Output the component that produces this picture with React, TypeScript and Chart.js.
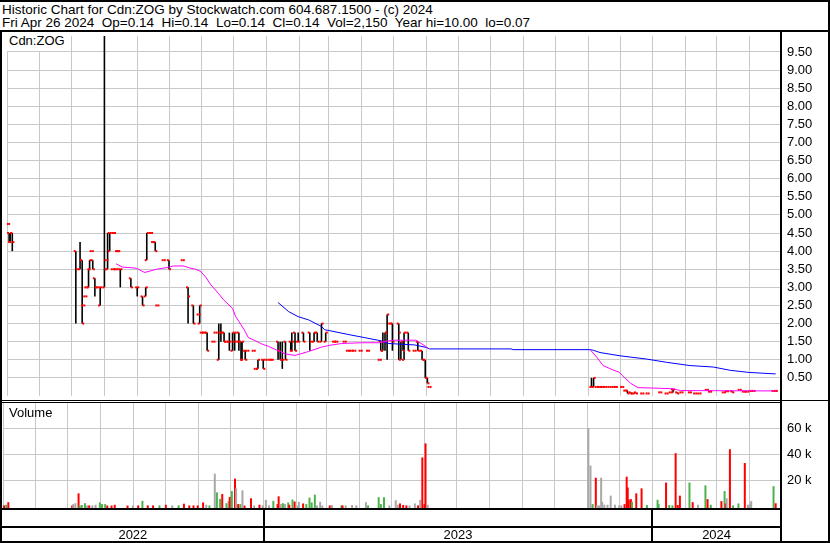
import React, { useEffect, useRef, useState } from 'react';
import { Chart, registerables } from 'chart.js';

Chart.register(...registerables);

// ---------------- text ----------------
const headerTitle = 'Historic Chart for Cdn:ZOG by Stockwatch.com 604.687.1500 - (c) 2024';
const headerQuote = 'Fri Apr 26 2024  Op=0.14  Hi=0.14  Lo=0.14  Cl=0.14  Vol=2,150  Year hi=10.00  lo=0.07';
const symbolLabel = 'Cdn:ZOG';
const volumeLabel = 'Volume';
const yearLabels = ['2022', '2023', '2024'];

// ---------------- axes ----------------
const priceTicks = [0.5, 1, 1.5, 2, 2.5, 3, 3.5, 4, 4.5, 5, 5.5, 6, 6.5, 7, 7.5, 8, 8.5, 9, 9.5];
const volumeTicksK = [20, 40, 60];
const PRICE_MIN = 0;
const PRICE_MAX = 9.94;
const VOL_MIN = -1.5;
const VOL_MAX = 79.3;

// time axis: day index counted from 2022-05-01
const DAY_MS = 86400000;
const START_UTC = Date.UTC(2022, 4, 1);
const dayOf = (y: number, m: number, d: number) => Math.round((Date.UTC(y, m - 1, d) - START_UTC) / DAY_MS);
const X_MIN = 0;
const X_MAX = dayOf(2024, 5, 1);
const monthStarts: number[] = [];
for (let y = 2022, m = 5; y < 2024 || (y === 2024 && m <= 5); ) {
  monthStarts.push(dayOf(y, m, 1));
  m++;
  if (m > 12) { m = 1; y++; }
}
const yearStarts = [dayOf(2023, 1, 1), dayOf(2024, 1, 1)];

// ---------------- data ----------------
// [day, open, high, low, close]
type Bar = [number, number, number, number, number];
const priceBars: Bar[] = [
  [1, 4.75, 4.75, 4.75, 4.75], [2, 4.5, 4.5, 4.25, 4.25], [3, 4.25, 4.5, 4.25, 4.5], [5, 4.5, 4.5, 4.0, 4.25],
  [65, 4.0, 4.0, 2.0, 3.5], [69, 3.5, 4.25, 3.5, 3.75], [71, 3.75, 3.75, 2.0, 2.0], [72, 2.5, 2.5, 2.5, 2.5],
  [74, 2.75, 2.75, 2.75, 2.75], [75, 3.0, 3.0, 3.0, 3.0], [77, 3.0, 3.5, 3.0, 3.5], [78, 3.5, 3.75, 3.5, 3.75],
  [80, 4.0, 4.0, 4.0, 4.0], [81, 3.75, 3.75, 3.5, 3.5], [83, 3.25, 3.25, 2.75, 3.0], [86, 3.0, 3.0, 3.0, 3.0],
  [88, 2.5, 3.0, 2.5, 3.0], [92, 3.0, 10.0, 3.0, 3.5], [94, 3.75, 3.75, 3.75, 3.75], [95, 3.5, 4.5, 3.5, 4.5],
  [97, 4.0, 4.5, 4.0, 4.5], [100, 3.5, 3.5, 3.5, 3.5], [101, 4.5, 4.5, 4.5, 4.5], [103, 3.5, 3.5, 3.5, 3.5],
  [104, 4.0, 4.0, 4.0, 4.0], [105, 4.0, 4.0, 4.0, 4.0], [107, 3.5, 3.5, 3.0, 3.5], [117, 3.25, 3.25, 3.0, 3.0],
  [123, 3.0, 3.0, 2.75, 3.0], [128, 2.75, 2.75, 2.5, 2.5], [131, 2.75, 3.0, 2.75, 3.0], [132, 3.75, 4.5, 3.75, 4.5],
  [136, 4.5, 4.5, 4.5, 4.5], [138, 4.25, 4.25, 4.25, 4.25], [140, 4.25, 4.25, 4.0, 4.0], [142, 2.5, 2.5, 2.5, 2.5],
  [148, 3.75, 3.75, 3.75, 3.75], [153, 3.75, 3.75, 3.5, 3.5], [166, 3.75, 3.75, 3.75, 3.75], [171, 3.0, 3.0, 2.0, 2.75],
  [176, 2.5, 2.5, 2.0, 2.0], [181, 2.25, 2.25, 2.25, 2.25], [182, 2.0, 2.5, 2.0, 2.5], [184, 1.75, 1.75, 1.75, 1.75],
  [186, 1.75, 1.75, 1.75, 1.75], [189, 1.75, 1.75, 1.25, 1.25], [195, 1.5, 1.5, 1.5, 1.5], [197, 1.75, 1.75, 1.75, 1.75],
  [200, 1.0, 2.0, 1.0, 1.75], [202, 1.75, 2.0, 1.5, 1.75], [205, 1.75, 1.75, 1.5, 1.5], [207, 1.5, 1.5, 1.5, 1.5],
  [210, 1.5, 1.75, 1.25, 1.5], [213, 1.25, 1.75, 1.25, 1.75], [215, 1.5, 1.75, 1.25, 1.75], [217, 1.5, 1.5, 1.5, 1.5],
  [219, 1.75, 1.75, 1.25, 1.5], [221, 1.5, 1.5, 1.0, 1.0], [222, 1.0, 1.5, 1.0, 1.5], [225, 1.25, 1.25, 1.0, 1.0],
  [227, 1.25, 1.25, 1.25, 1.25], [233, 1.25, 1.25, 1.25, 1.25], [235, 0.75, 0.75, 0.75, 0.75], [237, 0.75, 1.0, 0.75, 1.0],
  [242, 1.0, 1.0, 0.75, 0.75], [244, 1.0, 1.0, 1.0, 1.0], [248, 1.0, 1.0, 1.0, 1.0], [250, 1.0, 1.0, 1.0, 1.0],
  [256, 1.5, 1.5, 1.0, 1.25], [258, 1.25, 1.5, 1.0, 1.0], [260, 1.0, 1.5, 0.75, 1.0], [263, 1.5, 1.5, 1.0, 1.0],
  [268, 1.5, 1.5, 1.25, 1.25], [269, 1.25, 1.75, 1.25, 1.5], [272, 1.75, 1.75, 1.25, 1.25], [275, 1.5, 1.75, 1.5, 1.5],
  [280, 1.75, 1.75, 1.5, 1.5], [286, 1.75, 1.75, 1.25, 1.5], [290, 1.5, 1.75, 1.5, 1.75], [293, 1.75, 1.75, 1.5, 1.5],
  [297, 1.5, 2.0, 1.5, 2.0], [301, 1.5, 1.75, 1.5, 1.75], [309, 1.5, 1.5, 1.5, 1.5], [311, 1.5, 1.5, 1.5, 1.5],
  [319, 1.5, 1.5, 1.5, 1.5], [322, 1.25, 1.25, 1.25, 1.25], [325, 1.25, 1.25, 1.25, 1.25], [328, 1.25, 1.25, 1.25, 1.25],
  [334, 1.25, 1.25, 1.25, 1.25], [341, 1.25, 1.25, 1.25, 1.25], [352, 1.0, 1.0, 1.0, 1.0], [353, 1.5, 1.5, 1.25, 1.25],
  [355, 1.25, 1.75, 1.25, 1.5], [357, 1.5, 1.75, 1.25, 1.75], [359, 1.75, 2.25, 1.0, 2.25], [362, 2.0, 2.0, 2.0, 2.0],
  [364, 2.0, 2.0, 1.25, 1.5], [370, 2.0, 2.0, 1.0, 1.75], [372, 1.0, 1.5, 1.0, 1.5], [374, 1.5, 1.5, 1.25, 1.25],
  [375, 1.0, 1.75, 1.0, 1.75], [379, 1.75, 1.75, 1.25, 1.25], [385, 1.25, 1.25, 1.25, 1.25], [388, 1.5, 1.5, 1.25, 1.25],
  [392, 1.25, 1.25, 1.0, 1.0], [395, 1.0, 1.0, 0.5, 0.5], [397, 0.5, 0.5, 0.35, 0.35], [399, 0.25, 0.25, 0.25, 0.25],
  [552, 0.25, 0.5, 0.25, 0.25], [554, 0.25, 0.5, 0.25, 0.5], [557, 0.25, 0.25, 0.25, 0.25], [560, 0.25, 0.25, 0.25, 0.25],
  [562, 0.25, 0.25, 0.25, 0.25], [565, 0.25, 0.25, 0.25, 0.25], [569, 0.25, 0.25, 0.25, 0.25], [573, 0.25, 0.25, 0.25, 0.25],
  [575, 0.25, 0.25, 0.25, 0.25], [581, 0.25, 0.25, 0.25, 0.25], [584, 0.15, 0.15, 0.15, 0.15], [586, 0.15, 0.15, 0.07, 0.07],
  [589, 0.1, 0.1, 0.07, 0.07], [591, 0.07, 0.07, 0.07, 0.07], [594, 0.1, 0.1, 0.07, 0.07], [600, 0.07, 0.07, 0.07, 0.07],
  [605, 0.07, 0.07, 0.07, 0.07], [617, 0.1, 0.1, 0.1, 0.1], [623, 0.07, 0.07, 0.07, 0.07], [627, 0.1, 0.1, 0.1, 0.1],
  [629, 0.18, 0.18, 0.1, 0.18], [633, 0.1, 0.1, 0.07, 0.07], [637, 0.1, 0.1, 0.1, 0.1], [645, 0.1, 0.1, 0.1, 0.1],
  [650, 0.07, 0.07, 0.07, 0.07], [654, 0.07, 0.07, 0.07, 0.07], [661, 0.17, 0.17, 0.17, 0.17], [664, 0.12, 0.12, 0.12, 0.12],
  [677, 0.1, 0.1, 0.1, 0.1], [680, 0.13, 0.13, 0.13, 0.13], [685, 0.13, 0.13, 0.1, 0.1], [692, 0.17, 0.17, 0.17, 0.17],
  [696, 0.12, 0.12, 0.12, 0.12], [699, 0.12, 0.12, 0.12, 0.12], [703, 0.14, 0.14, 0.14, 0.14], [705, 0.14, 0.14, 0.14, 0.14],
  [724, 0.14, 0.14, 0.14, 0.14], [726, 0.14, 0.14, 0.14, 0.14],
];

// short moving average (magenta) [day, value], null = gap
const fastMA: [number, number | null][] = [
  [103, 3.65], [109, 3.56], [122, 3.53], [130, 3.41], [135, 3.45], [141, 3.5], [150, 3.54], [157, 3.59],
  [167, 3.59], [172, 3.54], [178, 3.5], [183, 3.44], [188, 3.27], [192, 3.09], [200, 2.82], [205, 2.64],
  [213, 2.42], [216, 2.19], [219, 2.06], [224, 1.83], [228, 1.61], [235, 1.52], [241, 1.43], [247, 1.37],
  [253, 1.29], [258, 1.23], [263, 1.16], [272, 1.12], [285, 1.23], [297, 1.35], [305, 1.4], [316, 1.45],
  [335, 1.47], [351, 1.47], [360, 1.52], [366, 1.54], [386, 1.54], [390, 1.47], [396, 1.36], [398, 1.3],
  [470, null],
  [551, 1.27], [557, 1.07], [563, 0.84], [573, 0.71], [578, 0.66], [581, 0.57], [589, 0.35], [596, 0.23],
  [610, 0.22], [629, 0.2], [636, 0.15], [726, 0.14],
];

// long moving average (blue) [day, value]
const slowMA: [number, number][] = [
  [256, 2.58], [266, 2.33], [275, 2.19], [285, 2.1], [297, 1.92], [300, 1.83], [307, 1.79], [322, 1.7],
  [338, 1.61], [354, 1.52], [360, 1.45], [385, 1.41], [396, 1.34], [399, 1.3], [476, 1.3], [478, 1.28],
  [551, 1.28], [554, 1.26], [560, 1.2], [579, 1.11], [604, 1.02], [623, 0.93], [645, 0.84], [667, 0.8],
  [683, 0.71], [701, 0.65], [726, 0.61],
];

// volume [day, thousands of shares, direction u=up d=down n=unchanged]
type Vol = [number, number, 'u' | 'd' | 'n'];
const volumeBars: Vol[] = [
  [1, 0.5, 'd'], [3, 1.0, 'u'], [5, 3.0, 'd'],
  [65, 0.5, 'd'], [66, 1.5, 'n'], [68, 2.2, 'n'], [71, 9.8, 'd'], [72, 0.5, 'u'], [74, 0.8, 'u'], [77, 2.2, 'u'],
  [79, 0.5, 'n'], [81, 0.5, 'd'], [84, 0.5, 'n'], [87, 1.0, 'n'], [91, 2.8, 'u'], [93, 1.5, 'u'], [96, 1.5, 'u'],
  [98, 0.4, 'd'], [102, 0.4, 'd'], [105, 1.0, 'd'], [117, 0.4, 'd'], [122, 0.4, 'n'], [127, 0.5, 'd'], [131, 4.0, 'u'],
  [136, 0.5, 'd'], [141, 0.5, 'd'], [147, 0.5, 'u'], [153, 1.0, 'd'], [159, 0.5, 'n'], [165, 0.5, 'u'], [170, 1.8, 'd'],
  [175, 0.5, 'd'], [179, 0.5, 'd'], [183, 0.5, 'd'], [188, 2.8, 'd'], [191, 1.0, 'n'], [194, 0.5, 'u'],
  [199, 24.9, 'n'], [201, 10.5, 'u'], [204, 5.5, 'u'], [206, 9.3, 'd'], [210, 2.2, 'u'], [212, 3.8, 'n'], [213, 7.0, 'd'],
  [215, 11.6, 'u'], [218, 21.1, 'd'], [219, 13.6, 'n'], [221, 1.5, 'd'], [223, 1.5, 'u'], [225, 12.1, 'n'], [227, 0.4, 'd'],
  [233, 6.0, 'd'], [236, 0.5, 'n'], [241, 1.0, 'd'], [244, 0.5, 'n'], [247, 4.8, 'n'], [250, 0.5, 'n'], [254, 4.0, 'u'],
  [258, 1.5, 'd'], [259, 7.5, 'd'], [261, 1.5, 'n'], [263, 2.2, 'u'], [265, 1.5, 'n'], [268, 2.8, 'u'], [269, 1.0, 'd'],
  [272, 5.0, 'u'], [274, 3.5, 'd'], [277, 0.5, 'n'], [278, 3.3, 'n'], [282, 2.0, 'd'], [285, 1.5, 'u'], [288, 6.5, 'u'],
  [290, 2.8, 'u'], [293, 8.8, 'u'], [295, 0.5, 'n'], [298, 3.3, 'n'], [300, 0.5, 'n'], [307, 0.5, 'd'], [309, 0.8, 'n'],
  [318, 0.5, 'u'], [319, 0.5, 'd'], [322, 0.5, 'n'], [328, 0.8, 'n'], [332, 0.5, 'n'], [341, 3.0, 'n'], [343, 0.5, 'u'],
  [353, 6.8, 'u'], [355, 1.5, 'u'], [358, 6.8, 'u'], [363, 0.5, 'n'], [369, 4.5, 'n'], [371, 1.0, 'n'], [373, 2.0, 'd'],
  [376, 0.8, 'd'], [379, 0.5, 'd'], [382, 0.5, 'n'], [387, 2.0, 'n'], [390, 0.5, 'd'], [392, 4.8, 'n'], [394, 37.4, 'd'],
  [396, 1.5, 'd'], [397, 48.2, 'd'], [399, 1.0, 'n'],
  [550, 60.0, 'n'], [552, 31.1, 'n'], [554, 1.5, 'u'], [557, 21.8, 'd'], [558, 0.5, 'n'], [560, 0.5, 'n'], [562, 21.8, 'n'],
  [563, 3.3, 'n'], [565, 1.0, 'n'], [568, 1.0, 'n'], [571, 8.0, 'n'], [575, 1.0, 'n'], [579, 0.5, 'n'], [581, 0.5, 'n'],
  [584, 1.5, 'd'], [586, 22.6, 'd'], [587, 14.3, 'd'], [588, 5.0, 'd'], [590, 5.3, 'd'], [591, 3.3, 'u'], [595, 9.8, 'd'],
  [600, 13.6, 'd'], [605, 0.8, 'u'], [615, 4.8, 'u'], [616, 1.5, 'u'], [623, 18.1, 'd'], [626, 0.8, 'u'], [629, 0.5, 'u'],
  [632, 40.7, 'd'], [634, 0.8, 'd'], [636, 8.0, 'd'], [645, 18.1, 'u'], [648, 3.0, 'd'], [653, 1.0, 'n'], [660, 15.9, 'u'],
  [662, 5.3, 'd'], [665, 1.0, 'u'], [675, 3.8, 'd'], [678, 11.5, 'u'], [679, 2.0, 'd'], [680, 6.0, 'n'], [683, 43.7, 'd'],
  [686, 0.5, 'u'], [691, 2.0, 'u'], [697, 33.1, 'd'], [700, 1.0, 'n'], [702, 2.0, 'n'], [703, 3.8, 'n'], [724, 15.3, 'u'],
  [726, 2.15, 'd'],
];

// ---------------- style ----------------
const FONT = '"Liberation Sans", Arial, Helvetica, sans-serif';
const GRID = '#c8c8c8';
const AXIS_W = 49;
const DIR_COLOR: Record<string, string> = { u: '#4cb34c', d: '#ff0000', n: '#a8a8a8' };
const CANVAS_LEFT = 3;
const CANVAS_W = 827;

function xScale(): any {
  return {
    type: 'linear',
    min: X_MIN,
    max: X_MAX,
    offset: false,
    grid: { color: GRID, lineWidth: 1, drawTicks: false, offset: false },
    border: { display: false },
    ticks: { display: false },
    afterBuildTicks: (s: any) => { s.ticks = monthStarts.map((v) => ({ value: v })); },
    afterFit: (s: any) => { s.height = 0; s.paddingLeft = 0; s.paddingRight = 0; s.paddingTop = 0; s.paddingBottom = 0; },
  };
}

function yScale(min: number, max: number, ticks: number[], fmt: (v: number) => string): any {
  return {
    type: 'linear',
    position: 'right',
    min,
    max,
    grid: { color: GRID, lineWidth: 1, drawTicks: false },
    border: { display: false },
    ticks: {
      color: '#000',
      padding: 6,
      autoSkip: false,
      font: { family: FONT, size: 13 },
      callback: (v: any) => fmt(Number(v)),
    },
    afterBuildTicks: (s: any) => { s.ticks = ticks.map((v) => ({ value: v })); },
    afterFit: (s: any) => { s.width = AXIS_W; s.paddingTop = 0; s.paddingBottom = 0; },
  };
}

const baseOptions = {
  animation: false as const,
  responsive: false,
  maintainAspectRatio: false,
  events: [] as any[],
  layout: { padding: 0 },
  plugins: { legend: { display: false }, tooltip: { enabled: false }, title: { display: false } },
};

export default function App() {
  const priceRef = useRef<HTMLCanvasElement>(null);
  const volRef = useRef<HTMLCanvasElement>(null);
  const [edges, setEdges] = useState<number[] | null>(null);

  useEffect(() => {
    const price = new Chart(priceRef.current as HTMLCanvasElement, {
      type: 'scatter',
      data: {
        datasets: [
          {
            type: 'line', label: 'MA short', order: 0,
            data: fastMA.map(([x, y]) => ({ x, y })) as any,
            borderColor: '#ff00ff', borderWidth: 1, pointRadius: 0, tension: 0, spanGaps: false,
          },
          {
            type: 'line', label: 'MA long', order: 0,
            data: slowMA.map(([x, y]) => ({ x, y })),
            borderColor: '#0000ff', borderWidth: 1, pointRadius: 0, tension: 0,
          },
          {
            type: 'scatter', label: 'Open', order: 1,
            data: priceBars.map((b) => ({ x: b[0] - 1, y: b[1] })),
            pointStyle: 'rect', pointRadius: 1.42, borderWidth: 0, backgroundColor: '#ff0000',
          },
          {
            type: 'scatter', label: 'Close', order: 1,
            data: priceBars.map((b) => ({ x: b[0] + 1, y: b[4] })),
            pointStyle: 'rect', pointRadius: 1.42, borderWidth: 0, backgroundColor: '#ff0000',
          },
          {
            type: 'bar', label: 'High-Low', order: 2,
            data: priceBars.filter((b) => b[2] > b[3]).map((b) => ({ x: b[0], y: [b[3], b[2]] })) as any,
            backgroundColor: '#000000', barThickness: 1.6, grouped: false, borderWidth: 0, inflateAmount: 0,
          } as any,
        ],
      },
      options: {
        ...baseOptions,
        scales: {
          x: xScale(),
          y: yScale(PRICE_MIN, PRICE_MAX, priceTicks, (v) => v.toFixed(2)),
        },
      } as any,
    });

    const volume = new Chart(volRef.current as HTMLCanvasElement, {
      type: 'scatter',
      data: {
        datasets: [
          {
            type: 'bar', label: 'Volume',
            data: volumeBars.map(([x, v]) => ({ x, y: v })) as any,
            backgroundColor: volumeBars.map((b) => DIR_COLOR[b[2]]),
            barThickness: 2, grouped: false, borderWidth: 0, base: VOL_MIN, inflateAmount: 0,
          } as any,
        ],
      },
      options: {
        ...baseOptions,
        scales: {
          x: xScale(),
          y: yScale(VOL_MIN, VOL_MAX, volumeTicksK, (v) => `${v} k`),
        },
      } as any,
    });

    const xs = volume.scales.x;
    setEdges([
      2,
      ...yearStarts.map((d) => CANVAS_LEFT + xs.getPixelForValue(d)),
      CANVAS_LEFT + xs.getPixelForValue(X_MAX),
    ]);

    return () => {
      price.destroy();
      volume.destroy();
    };
  }, []);

  const line = (left: number, top: number, width: number, height: number, key: string) => (
    <div key={key} style={{ position: 'absolute', left, top, width, height, background: '#000' }} />
  );

  return (
    <div
      style={{
        position: 'absolute', left: 0, top: 0, width: 830, height: 543, overflow: 'hidden',
        background: '#fff', fontFamily: FONT, fontSize: 13, color: '#000',
      }}
    >
      <div style={{ position: 'absolute', left: 2, top: 3, fontSize: 13.5, lineHeight: '13px', whiteSpace: 'pre' }}>
        {headerTitle}
        <br />
        {headerQuote}
      </div>

      <canvas
        ref={priceRef}
        width={CANVAS_W}
        height={368}
        style={{ position: 'absolute', left: CANVAS_LEFT, top: 32, width: CANVAS_W, height: 368 }}
      />
      <canvas
        ref={volRef}
        width={CANVAS_W}
        height={105}
        style={{ position: 'absolute', left: CANVAS_LEFT, top: 403, width: CANVAS_W, height: 105 }}
      />

      <div
        style={{
          position: 'absolute', left: 3, top: 32, width: 63, height: 19, background: '#fff',
          lineHeight: '17px', paddingLeft: 6, boxSizing: 'border-box', whiteSpace: 'pre',
        }}
      >
        {symbolLabel}
      </div>
      <div style={{ position: 'absolute', left: 9, top: 406, lineHeight: '13px' }}>{volumeLabel}</div>

      {line(0, 0, 830, 2, 'top')}
      {line(0, 30, 830, 2, 'hdr')}
      {line(0, 30, 2, 513, 'left')}
      {line(828, 0, 2, 543, 'right')}
      {line(0, 541, 830, 2, 'bottom')}
      {line(780, 30, 2, 513, 'axis')}
      {line(0, 400, 830, 1, 'sep1')}
      {line(0, 402, 781, 1, 'sep2')}
      {line(0, 508, 781, 2, 'volb')}
      {line(0, 526, 781, 2, 'rows')}

      {edges &&
        edges.slice(1, edges.length - 1).map((x, i) => line(Math.round(x) - 1, 510, 2, 31, 'div' + i))}
      {edges &&
        yearLabels.map((t, i) => (
          <div
            key={t}
            style={{
              position: 'absolute', left: edges[i], width: edges[i + 1] - edges[i], top: 528,
              lineHeight: '13px', textAlign: 'center',
            }}
          >
            {t}
          </div>
        ))}
    </div>
  );
}
